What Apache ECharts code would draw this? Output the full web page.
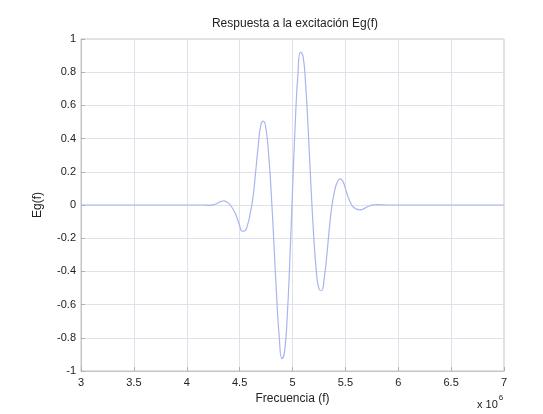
<!DOCTYPE html>
<html>
<head>
<meta charset="utf-8">
<script src="https://cdn.jsdelivr.net/npm/echarts@6/dist/echarts.min.js"></script>
<style>
html,body{margin:0;padding:0;background:#ffffff;}
#chart{width:543px;height:414px;}
</style>
</head>
<body>
<div id="chart"></div>
<script>
// Frequency in units of 10^6 Hz
const freqMHz = [
  3.0, 3.25, 3.5, 3.75, 4.0, 4.1, 4.175,
  4.2, 4.225, 4.25, 4.275, 4.3, 4.325, 4.35, 4.375,
  4.4, 4.425, 4.45, 4.475, 4.5, 4.525, 4.55, 4.575,
  4.6, 4.625, 4.65, 4.675, 4.7, 4.725, 4.75, 4.775,
  4.8, 4.825, 4.85, 4.875, 4.9, 4.925, 4.95, 4.975,
  5.0, 5.025, 5.05, 5.075, 5.1, 5.125, 5.15, 5.175,
  5.2, 5.225, 5.25, 5.275, 5.3, 5.325, 5.35, 5.375,
  5.4, 5.425, 5.45, 5.475, 5.5, 5.525, 5.55, 5.575,
  5.6, 5.625, 5.65, 5.675, 5.7, 5.725, 5.75, 5.775, 5.8,
  5.9, 6.0, 6.25, 6.5, 6.75, 7.0
];
const egValues = [
  0, 0, 0, 0, 0, 0, 0,
  -0.002, -0.001, 0.002, 0.006, 0.014, 0.022, 0.025, 0.02,
  0.008, -0.012, -0.04, -0.075, -0.125, -0.158, -0.155, -0.12,
  -0.05, 0.04, 0.19, 0.35, 0.48, 0.505, 0.455, 0.30,
  0.06, -0.24, -0.55, -0.80, -0.926, -0.883, -0.673, -0.328,
  0.084, 0.478, 0.776, 0.921, 0.895, 0.718, 0.435, 0.11,
  -0.18, -0.395, -0.505, -0.515, -0.44, -0.30, -0.13, 0.005,
  0.09, 0.14, 0.157, 0.145, 0.10, 0.05, 0.012, -0.012,
  -0.023, -0.028, -0.029, -0.022, -0.014, -0.006, -0.001, 0.001, 0.002,
  0, 0, 0, 0, 0, 0
];
const titleText = 'Respuesta a la excitación Eg(f)';
const xName = 'Frecuencia (f)';
const yName = 'Eg(f)';

const font = 'Liberation Sans, Arial, Helvetica, sans-serif';
const chart = echarts.init(document.getElementById('chart'), null, {renderer: 'canvas'});
chart.setOption({
  backgroundColor: '#ffffff',
  animation: false,
  title: {
    text: titleText,
    left: 290, top: 13, textAlign: 'center',
    textStyle: {fontFamily: font, fontSize: 12, fontWeight: 'normal', color: '#222'}
  },
  grid: {
    left: 81, right: 39, top: 39, bottom: 43,
    show: true, borderColor: '#c4c4c4', borderWidth: 1, backgroundColor: 'transparent'
  },
  xAxis: {
    type: 'value', min: 3, max: 7, interval: 0.5,
    name: xName, nameLocation: 'middle', nameGap: 21,
    nameTextStyle: {fontFamily: font, fontSize: 12, color: '#222'},
    axisLine: {show: true, onZero: false, lineStyle: {color: '#c4c4c4'}},
    axisTick: {show: true, inside: true, length: 4, lineStyle: {color: '#b0b0b0'}},
    axisLabel: {fontFamily: font, fontSize: 11, color: '#222', margin: 6},
    splitLine: {show: true, lineStyle: {color: '#dfe2ea', width: 1}}
  },
  yAxis: {
    type: 'value', min: -1, max: 1, interval: 0.2,
    name: yName, nameLocation: 'middle', nameGap: 37, nameRotate: 90,
    nameTextStyle: {fontFamily: font, fontSize: 12, color: '#222'},
    axisLine: {show: true, onZero: false, lineStyle: {color: '#c4c4c4'}},
    axisTick: {show: true, inside: true, length: 4, lineStyle: {color: '#b0b0b0'}},
    axisLabel: {fontFamily: font, fontSize: 11, color: '#222', margin: 5},
    splitLine: {show: true, lineStyle: {color: '#dfe2ea', width: 1}}
  },
  graphic: [{
    type: 'text', left: 477, top: 394,
    style: {
      text: '{b|x 10}{s|6}',
      rich: {
        b: {fontFamily: font, fontSize: 11, fill: '#222', verticalAlign: 'bottom', lineHeight: 16},
        s: {fontFamily: font, fontSize: 8, fill: '#222', verticalAlign: 'top', padding: [0,0,8,1]}
      }
    }
  }],
  series: [{
    type: 'line',
    data: freqMHz.map((f, i) => [f, egValues[i]]),
    showSymbol: false,
    smooth: 0.5,
    lineStyle: {color: '#aab4ee', width: 1.2},
    z: 3
  }]
});
</script>
</body>
</html>
